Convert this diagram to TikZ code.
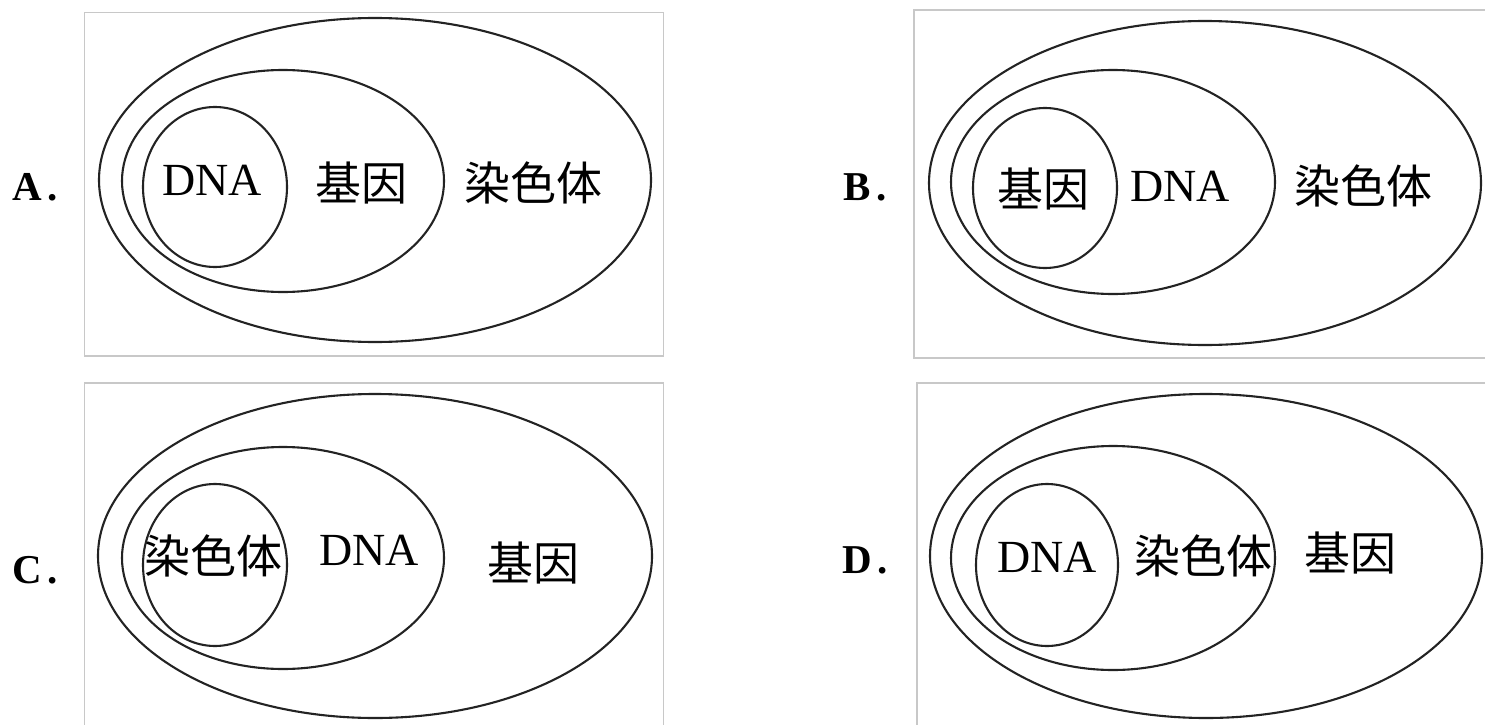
\documentclass[tikz,border=0pt]{standalone}
\usepackage{fontspec}
\setmainfont{Liberation Serif}
\newfontfamily\cjk{Noto Sans CJK SC}
\usepackage{tikz}
\usetikzlibrary{shapes.geometric}
\definecolor{framegray}{RGB}{200,200,200}
\definecolor{ringblack}{RGB}{35,35,35}

\begin{document}
\begin{tikzpicture}[
    x=1pt, y=-1pt,
    frame/.style={draw=framegray, line width=1.3pt},
    ring/.style={draw=ringblack, ellipse, line width=2.1pt, inner sep=0pt},
    han/.style={font=\cjk\fontsize{46}{50}\selectfont, inner sep=0pt},
    dna/.style={font=\fontsize{46}{50}\selectfont, inner sep=0pt},
    opt/.style={font=\bfseries\fontsize{41}{44}\selectfont, inner sep=0pt}
]
    \useasboundingbox (0,0) rectangle (1485,725);
    \clip (0,0) rectangle (1485,725);

    % Frames
    \draw[frame] (84.5,12.5) rectangle (663.5,356);
    \draw[frame] (914,10) rectangle (1500,358);
    \draw[frame] (84.5,383) rectangle (663.5,740);
    \draw[frame] (917,383) rectangle (1500,740);

    % A
    \node[opt] (labA) at (35,187) {A\kern5pt.};
    \node[ring, minimum width=552pt, minimum height=324pt] (outerA) at (375,180) {};
    \node[ring, minimum width=322pt, minimum height=222pt] (midA) at (283,181) {};
    \node[ring, minimum width=144pt, minimum height=160pt] (innerA) at (215,187) {};
    \node[dna] (dnaA) at (212,180) {DNA};
    \node[han] (geneA) at (361,183) {基因};
    \node[han] (chromA) at (533,183) {染色体};

    % B
    \node[opt] (labB) at (865,187) {B\kern5pt.};
    \node[ring, minimum width=552pt, minimum height=324pt] (outerB) at (1205,183) {};
    \node[ring, minimum width=324pt, minimum height=224pt] (midB) at (1113,182) {};
    \node[ring, minimum width=144pt, minimum height=160pt] (innerB) at (1045,188) {};
    \node[han] (geneB) at (1043,189) {基因};
    \node[dna] (dnaB) at (1180,186) {DNA};
    \node[han] (chromB) at (1363,186) {染色体};

    % C
    \node[opt] (labC) at (35,570) {C\kern5pt.};
    \node[ring, minimum width=554pt, minimum height=324pt] (outerC) at (375,556) {};
    \node[ring, minimum width=322pt, minimum height=222pt] (midC) at (283,558) {};
    \node[ring, minimum width=144pt, minimum height=162pt] (innerC) at (215,565) {};
    \node[han] (chromC) at (213,556) {染色体};
    \node[dna] (dnaC) at (369,550) {DNA};
    \node[han] (geneC) at (533,563) {基因};

    % D
    \node[opt] (labD) at (865,560) {D\kern5pt.};
    \node[ring, minimum width=552pt, minimum height=324pt] (outerD) at (1206,556) {};
    \node[ring, minimum width=324pt, minimum height=224pt] (midD) at (1113,558) {};
    \node[ring, minimum width=142pt, minimum height=162pt] (innerD) at (1047,565) {};
    \node[dna] (dnaD) at (1047,557) {DNA};
    \node[han] (chromD) at (1203,556) {染色体};
    \node[han] (geneD) at (1350,553) {基因};
\end{tikzpicture}
\end{document}
